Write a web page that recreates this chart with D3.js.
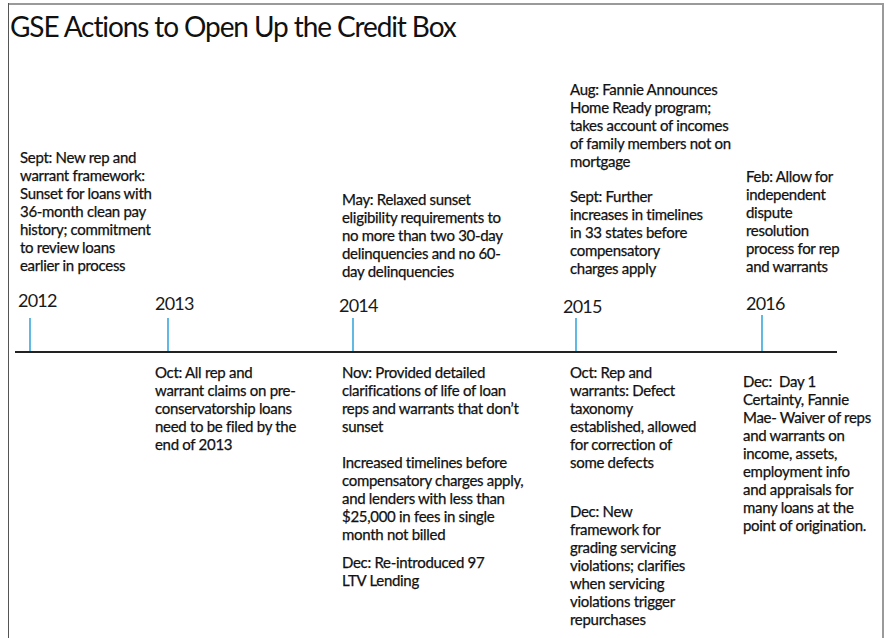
<!DOCTYPE html>
<html>
<head>
<meta charset="utf-8">
<script src="https://cdn.jsdelivr.net/npm/d3@7"></script>
<style>
  body { margin: 0; background: #fff; }
  svg { display: block; }
  .note { font-family: Lato, "Open Sans", sans-serif; font-size: 15px; fill: #111; stroke: #111; stroke-width: 0.25px; letter-spacing: -0.3px; }
  .year { font-family: Lato, "Open Sans", sans-serif; font-size: 18px; fill: #1a1a1a; letter-spacing: -0.8px; }
  .title { font-family: Lato, "Open Sans", sans-serif; font-size: 28px; fill: #111; letter-spacing: -1.1px; }
</style>
</head>
<body>
<svg id="chart"></svg>
<script>
// Timeline years
const years = [2012, 2013, 2014, 2015, 2016];

// Events: year they hang from, side of the axis and text lines
const eventYears = [2012, 2014, 2015, 2015, 2016, 2013, 2014, 2014, 2014, 2015, 2015, 2016];
const eventSides = ['above', 'above', 'above', 'above', 'above', 'below', 'below', 'below', 'below', 'below', 'below', 'below'];
const eventLines = [
  ['Sept: New rep and', 'warrant framework:', 'Sunset for loans with', '36-month clean pay', 'history; commitment', 'to review loans', 'earlier in process'],
  ['May: Relaxed sunset', 'eligibility requirements to', 'no more than two 30-day', 'delinquencies and no 60-', 'day delinquencies'],
  ['Aug: Fannie Announces', 'Home Ready program;', 'takes account of incomes', 'of family members not on', 'mortgage'],
  ['Sept: Further', 'increases in timelines', 'in 33 states before', 'compensatory', 'charges apply'],
  ['Feb: Allow for', 'independent', 'dispute', 'resolution', 'process for rep', 'and warrants'],
  ['Oct: All rep and', 'warrant claims on pre-', 'conservatorship loans', 'need to be filed by the', 'end of 2013'],
  ['Nov: Provided detailed', 'clarifications of life of loan', 'reps and warrants that don\u2019t', 'sunset'],
  ['Increased timelines before', 'compensatory charges apply,', 'and lenders with less than', '$25,000 in fees in single', 'month not billed'],
  ['Dec: Re-introduced 97', 'LTV Lending'],
  ['Oct: Rep and', 'warrants: Defect', 'taxonomy', 'established, allowed', 'for correction of', 'some defects'],
  ['Dec: New', 'framework for', 'grading servicing', 'violations; clarifies', 'when servicing', 'violations trigger', 'repurchases'],
  ['Dec:  Day 1', 'Certainty, Fannie', 'Mae- Waiver of reps', 'and warrants on', 'income, assets,', 'employment info', 'and appraisals for', 'many loans at the', 'point of origination.']
];

const title = 'GSE Actions to Open Up the Credit Box';

// ---- layout ----
const svgWidth = 886;
const svgHeight = 638;
const axisY = 352;
const tickTop = [318, 318, 318, 318, 315];
const tickX = [30, 168, 353, 576, 762];            // hand-placed year markers
const yearLabelY = [307, 310, 312, 313, 310];
const yearLabelDx = [-12, -13, -14, -13, -16];
// per event: x offset from its year marker, first baseline
const eventDx = [-10, -11, -6, -6, -16, -13, -11, -11, -11, -6, -6, -19];
const eventY = [163, 205, 95, 202, 182, 378, 378, 468, 568, 378, 517, 387];
const lineHeight = 18;

const x = d3.scaleLinear()
  .domain(years)
  .range(tickX);

const svg = d3.select('#chart')
  .attr('width', svgWidth)
  .attr('height', svgHeight);

// Frame
svg.append('line')
  .attr('x1', 8).attr('x2', 884).attr('y1', 4).attr('y2', 4)
  .attr('stroke', '#9a9a9a').attr('stroke-width', 2);
svg.append('line')
  .attr('x1', 883).attr('x2', 883).attr('y1', 3).attr('y2', svgHeight)
  .attr('stroke', '#9a9a9a').attr('stroke-width', 2);
svg.append('line')
  .attr('x1', 8.5).attr('x2', 8.5).attr('y1', 3).attr('y2', svgHeight)
  .attr('stroke', '#555').attr('stroke-width', 1);

// Title
svg.append('text')
  .attr('class', 'title')
  .attr('x', 10)
  .attr('y', 37)
  .text(title);

// Axis line
svg.append('line')
  .attr('x1', 15).attr('x2', 837)
  .attr('y1', axisY).attr('y2', axisY)
  .attr('stroke', '#222')
  .attr('stroke-width', 2);

// Year markers
svg.selectAll('.tick')
  .data(years)
  .enter()
  .append('line')
  .attr('class', 'tick')
  .attr('x1', d => x(d)).attr('x2', d => x(d))
  .attr('y1', (d, i) => tickTop[i])
  .attr('y2', axisY - 1)
  .attr('stroke', '#3aa8dc')
  .attr('stroke-width', 1.6);

svg.selectAll('.year')
  .data(years)
  .enter()
  .append('text')
  .attr('class', 'year')
  .attr('x', (d, i) => x(d) + yearLabelDx[i])
  .attr('y', (d, i) => yearLabelY[i])
  .text(d => d);

// Event notes
let notes = svg.selectAll('.note')
  .data(eventLines)
  .enter()
  .append('text')
  .attr('class', 'note')
  .attr('x', (d, i) => x(eventYears[i]) + eventDx[i])
  .attr('y', (d, i) => eventY[i]);

notes.each(function (lines, i) {
  let xPos = x(eventYears[i]) + eventDx[i];
  d3.select(this)
    .selectAll('tspan')
    .data(lines)
    .enter()
    .append('tspan')
    .attr('x', xPos)
    .attr('dy', (d, j) => j === 0 ? 0 : lineHeight)
    .style('white-space', 'pre')
    .text(d => d);
});
</script>
</body>
</html>
